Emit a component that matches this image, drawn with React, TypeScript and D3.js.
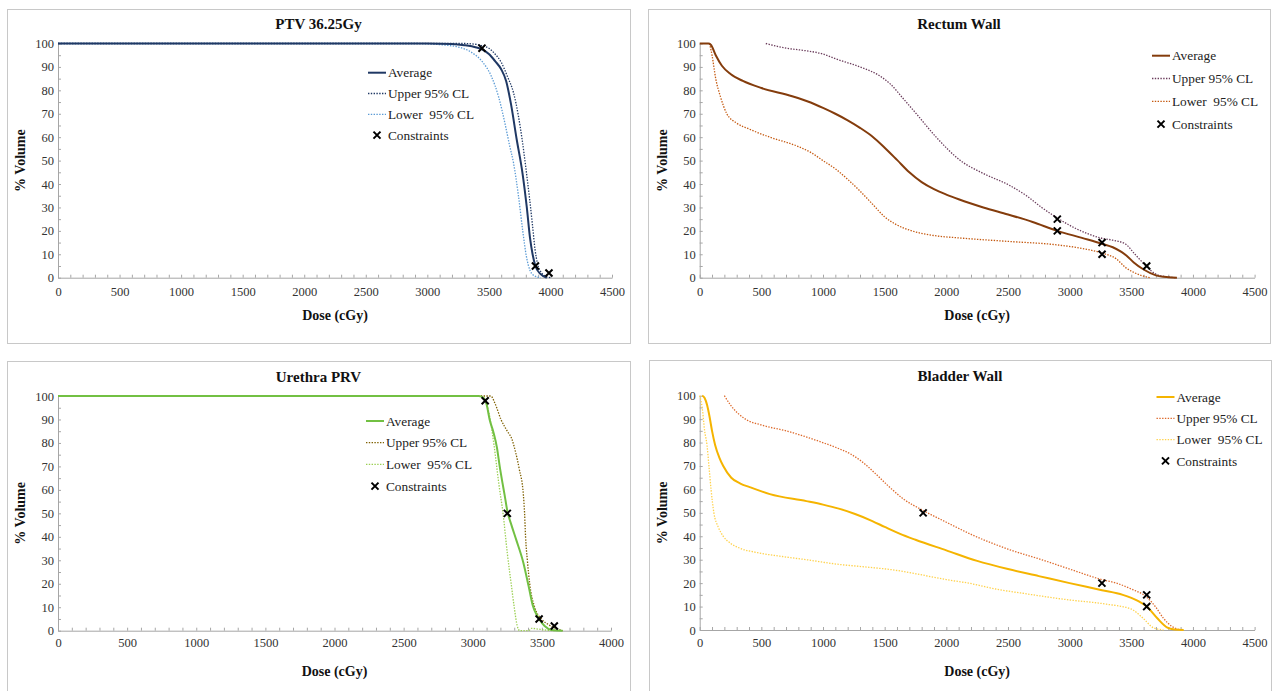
import { useEffect, useRef } from "react";
import * as d3 from "d3";

type Pt = [number, number];

// PTV 36.25Gy
const ptvAverage: Pt[] = [[0, 100], [3000, 100], [3200, 99.8], [3300, 99.3], [3400, 98.3], [3444, 97.5], [3500, 95.5], [3550, 92.5], [3600, 89], [3640, 84], [3680, 74], [3726, 59], [3772, 45], [3808, 30], [3834, 17], [3855, 10], [3878, 5], [3920, 1.5], [3970, 0]];
const ptvUpper: Pt[] = [[0, 100], [3300, 100], [3400, 99.6], [3450, 99], [3500, 98], [3550, 95.5], [3600, 92], [3650, 86], [3700, 79], [3740, 69], [3770, 59], [3800, 47], [3830, 34], [3855, 22], [3875, 12], [3895, 6], [3930, 2], [3970, 0.4], [4010, 0]];
const ptvLower: Pt[] = [[0, 100], [2900, 100], [3100, 99.5], [3250, 98.5], [3350, 96.5], [3450, 92], [3520, 86], [3580, 77], [3630, 66], [3670, 56], [3700, 49], [3740, 35], [3775, 20], [3805, 9], [3835, 3], [3870, 0.8], [3920, 0]];
const ptvConstraints: Pt[] = [[3444, 98], [3878, 5], [3988, 2]];

// Rectum Wall
const rectumAverage: Pt[] = [[0, 100], [70, 100], [90, 99.5], [130, 95], [180, 90.5], [250, 87], [350, 84], [500, 81], [750, 77.5], [900, 74.8], [1000, 72.5], [1100, 70], [1200, 67.2], [1300, 64], [1400, 60.3], [1500, 55.5], [1600, 50.3], [1700, 45], [1800, 40.8], [1900, 37.8], [2000, 35.5], [2100, 33.5], [2300, 30], [2500, 27], [2700, 23.8], [2900, 20], [3100, 17], [3263, 14.5], [3350, 13], [3420, 11], [3460, 9.5], [3520, 6.5], [3600, 3.5], [3700, 1], [3800, 0.2], [3870, 0]];
const rectumUpper: Pt[] = [[536, 100], [700, 98], [850, 97], [1000, 95.5], [1100, 93.5], [1326, 89.5], [1450, 86.5], [1550, 82.5], [1650, 76.5], [1757, 70], [1918, 60], [2115, 50], [2300, 44.5], [2510, 39.5], [2650, 35], [2773, 30], [2900, 25.5], [3050, 21], [3250, 17], [3350, 16], [3450, 14.5], [3530, 10], [3620, 5], [3700, 1.5], [3800, 0.3], [3870, 0]];
const rectumLower: Pt[] = [[80, 100], [100, 95], [130, 85], [170, 77], [220, 70], [300, 66], [400, 63.5], [569, 60], [800, 56], [900, 53.5], [1000, 50], [1100, 46.5], [1200, 42], [1300, 37], [1400, 31.5], [1500, 26], [1600, 22.5], [1721, 20], [1900, 18], [2100, 17], [2500, 15.5], [2900, 14], [3100, 12.5], [3263, 10.5], [3380, 8], [3450, 4.5], [3530, 2], [3650, 0]];
const rectumConstraints: Pt[] = [[2900, 25], [2900, 20], [3263, 15], [3263, 10], [3625, 5]];

// Urethra PRV
const urethraAverage: Pt[] = [[0, 100], [3040, 100], [3075, 99.3], [3100, 96.5], [3122, 90], [3150, 84.5], [3175, 78], [3195, 70], [3215, 63], [3230, 58], [3250, 51], [3280, 45], [3313, 39], [3366, 29], [3404, 19], [3433, 11], [3460, 7], [3480, 5], [3520, 2], [3571, 0.3], [3650, 0]];
const urethraUpper: Pt[] = [[0, 100], [3130, 100], [3160, 97], [3204, 90], [3250, 85], [3284, 81.5], [3310, 76], [3336, 69], [3366, 58], [3375, 50], [3382, 40], [3395, 30], [3412, 20], [3448, 10], [3498, 5], [3550, 2.5], [3601, 1], [3650, 0]];
const urethraLower: Pt[] = [[0, 100], [3060, 100], [3090, 98], [3120, 92], [3154, 79], [3190, 62], [3219, 50], [3250, 33], [3278, 20], [3300, 10], [3322, 2], [3340, 0], [3405, 0], [3425, 1], [3460, 0.8], [3520, 0.3], [3600, 0]];
const urethraConstraints: Pt[] = [[3090, 98], [3250, 50], [3480, 5], [3590, 2]];

// Bladder Wall
const bladderAverage: Pt[] = [[20, 100], [40, 99], [60, 96], [80, 91], [100, 85], [125, 79], [160, 73.5], [191, 70], [256, 65], [330, 62.5], [405, 61], [569, 58], [865, 55], [1000, 53.5], [1128, 51.8], [1260, 49.5], [1400, 46.5], [1500, 44], [1625, 41], [1750, 38.5], [2000, 34], [2250, 29.5], [2500, 26], [2750, 23], [3000, 20], [3262, 17], [3431, 15], [3550, 12.5], [3625, 10], [3711, 5], [3793, 1], [3850, 0.2], [3925, 0]];
const bladderUpper: Pt[] = [[200, 100], [250, 96], [371, 90], [500, 87.5], [700, 85], [997, 80], [1100, 78], [1227, 75], [1300, 72.5], [1358, 70], [1450, 65.5], [1539, 61], [1650, 56], [1812, 51], [2000, 46], [2214, 40.5], [2500, 34.5], [2773, 30], [3000, 26], [3262, 21.5], [3380, 20], [3500, 17.5], [3625, 14], [3695, 10], [3761, 5], [3830, 1.5], [3908, 0]];
const bladderLower: Pt[] = [[0, 100], [20, 95], [40, 85], [59, 79], [75, 70], [92, 60], [115, 50], [150, 44], [191, 40], [250, 37], [322, 35], [470, 33], [650, 31.5], [865, 30], [1128, 28], [1326, 27], [1589, 25.5], [1753, 24], [2000, 21.5], [2181, 20], [2400, 17.5], [2641, 15.5], [2971, 13], [3300, 11], [3497, 9], [3596, 5], [3678, 1], [3761, 0]];
const bladderConstraints: Pt[] = [[1812, 50], [3262, 20], [3625, 15], [3625, 10]];

const xTicks4500 = [0, 500, 1000, 1500, 2000, 2500, 3000, 3500, 4000, 4500];
const xTicks4000 = [0, 500, 1000, 1500, 2000, 2500, 3000, 3500, 4000];
const yTicks = [0, 10, 20, 30, 40, 50, 60, 70, 80, 90, 100];
const legendLabels = ["Average", "Upper 95% CL", "Lower  95% CL", "Constraints"];

const FONT = "'Liberation Serif', 'Times New Roman', serif";

const panels = [
  {
    title: "PTV 36.25Gy", frame: [7, 9, 623, 334], left: 58, right: 612, top: 43.5, bottom: 277.7,
    xTicks: xTicks4500, titleY: 28.5, tickPad: 9, xLabelY: 319.5,
    series: [ptvAverage, ptvUpper, ptvLower], cons: ptvConstraints,
    colors: ["#1f3864", "#1f3864", "#5b9bd5"], legend: { x: 368, y: 72.7, step: 20.8 },
  },
  {
    title: "Rectum Wall", frame: [648, 9, 622, 334], left: 699.7, right: 1254.6, top: 43.5, bottom: 277.7,
    xTicks: xTicks4500, titleY: 28.5, tickPad: 9, xLabelY: 319.5,
    series: [rectumAverage, rectumUpper, rectumLower], cons: rectumConstraints,
    colors: ["#843c0c", "#6b3d5c", "#c55a11"], legend: { x: 1152, y: 55.7, step: 22.8 },
  },
  {
    title: "Urethra PRV", frame: [7, 361, 623, 345], left: 58, right: 611, top: 396, bottom: 630.7,
    xTicks: xTicks4000, titleY: 381.5, tickPad: 7.5, xLabelY: 676.3,
    series: [urethraAverage, urethraUpper, urethraLower], cons: urethraConstraints,
    colors: ["#72c043", "#7f6000", "#9bcf53"], legend: { x: 366, y: 421, step: 21.7 },
  },
  {
    title: "Bladder Wall", frame: [649, 360, 622, 345], left: 699.7, right: 1254.6, top: 395.7, bottom: 630,
    xTicks: xTicks4500, titleY: 381, tickPad: 8, xLabelY: 676,
    series: [bladderAverage, bladderUpper, bladderLower], cons: bladderConstraints,
    colors: ["#f5b400", "#dd6a2c", "#ffd24d"], legend: { x: 1156.5, y: 397, step: 21.3 },
  },
];

export default function App() {
  const ref = useRef<SVGSVGElement>(null);

  useEffect(() => {
    const svg = d3.select(ref.current);
    svg.selectAll("*").remove();
    svg.append("rect").attr("width", 1272).attr("height", 691).attr("fill", "#fff");

    const cross = d3.symbol(d3.symbolX, 34);

    panels.forEach((p) => {
      const g = svg.append("g");
      const [fx, fy, fw, fh] = p.frame;
      g.append("rect").attr("x", fx + 0.5).attr("y", fy + 0.5).attr("width", fw).attr("height", fh)
        .attr("fill", "#fff").attr("stroke", "#c8c8c8");

      const xMax = p.xTicks[p.xTicks.length - 1];
      const x = d3.scaleLinear().domain([0, xMax]).range([p.left, p.right]);
      const y = d3.scaleLinear().domain([0, 100]).range([p.bottom, p.top]);

      // title
      g.append("text").attr("x", fx + fw / 2).attr("y", p.titleY).attr("text-anchor", "middle")
        .attr("font-family", FONT).attr("font-weight", "bold").attr("font-size", 15).attr("fill", "#111")
        .text(p.title);

      // axes (minor ticks every 100 cGy / 5 %)
      const xAxis = d3.axisBottom(x)
        .tickValues(d3.range(0, xMax + 1, 100))
        .tickSizeInner(-3).tickSizeOuter(0).tickPadding(p.tickPad)
        .tickFormat((d) => (p.xTicks.includes(+d) ? String(d) : ""));
      const yAxis = d3.axisLeft(y)
        .tickValues(d3.range(0, 101, 5))
        .tickSizeInner(-3).tickSizeOuter(0).tickPadding(4)
        .tickFormat((d) => (yTicks.includes(+d) ? String(d) : ""));

      [
        g.append("g").attr("transform", `translate(0,${p.bottom})`).call(xAxis),
        g.append("g").attr("transform", `translate(${p.left},0)`).call(yAxis),
      ].forEach((a) => {
        a.select(".domain").attr("stroke", "#a6a6a6");
        a.selectAll(".tick line").attr("stroke", "#a6a6a6");
        a.selectAll(".tick text").attr("font-family", FONT).attr("font-size", 12.5).attr("fill", "#333");
      });

      // axis titles
      g.append("text").attr("x", (p.left + p.right) / 2).attr("y", p.xLabelY).attr("text-anchor", "middle")
        .attr("font-family", FONT).attr("font-weight", "bold").attr("font-size", 14).attr("fill", "#111")
        .text("Dose (cGy)");
      g.append("text")
        .attr("transform", `translate(${p.left - 37.5},${(p.top + p.bottom) / 2}) rotate(-90)`)
        .attr("dy", "0.35em").attr("text-anchor", "middle")
        .attr("font-family", FONT).attr("font-weight", "bold").attr("font-size", 14).attr("fill", "#111")
        .text("% Volume");

      // curves
      const line = d3.line<Pt>().x((d) => x(d[0])).y((d) => y(d[1])).curve(d3.curveMonotoneX);
      const styles = [
        { w: 2, dash: null },
        { w: 1.3, dash: "1.4,1.4" },
        { w: 1.3, dash: "1.4,1.4" },
      ];
      [2, 1, 0].forEach((i) => {
        g.append("path").datum(p.series[i]).attr("d", line).attr("fill", "none")
          .attr("stroke", p.colors[i]).attr("stroke-width", styles[i].w)
          .attr("stroke-dasharray", styles[i].dash);
      });

      // constraints
      g.selectAll("path.cons").data(p.cons).join("path").attr("class", "cons")
        .attr("transform", (d) => `translate(${x(d[0])},${y(d[1])})`)
        .attr("d", cross).attr("fill", "none").attr("stroke", "#000").attr("stroke-width", 2);

      // legend
      const lg = g.append("g");
      legendLabels.forEach((label, i) => {
        const ly = p.legend.y + i * p.legend.step;
        if (i < 3) {
          lg.append("line").attr("x1", p.legend.x).attr("x2", p.legend.x + 18).attr("y1", ly).attr("y2", ly)
            .attr("stroke", p.colors[i]).attr("stroke-width", styles[i].w)
            .attr("stroke-dasharray", styles[i].dash);
        } else {
          lg.append("path").attr("transform", `translate(${p.legend.x + 9},${ly})`).attr("d", cross)
            .attr("fill", "none").attr("stroke", "#000").attr("stroke-width", 2);
        }
        lg.append("text").attr("x", p.legend.x + 20).attr("y", ly).attr("dy", "0.35em")
          .attr("font-family", FONT).attr("font-size", 13.3).attr("fill", "#222")
          .style("white-space", "pre").text(label);
      });
    });
  }, []);

  return (
    <svg ref={ref} width={1272} height={691}
      style={{ position: "absolute", left: 0, top: 0, display: "block" }} />
  );
}
